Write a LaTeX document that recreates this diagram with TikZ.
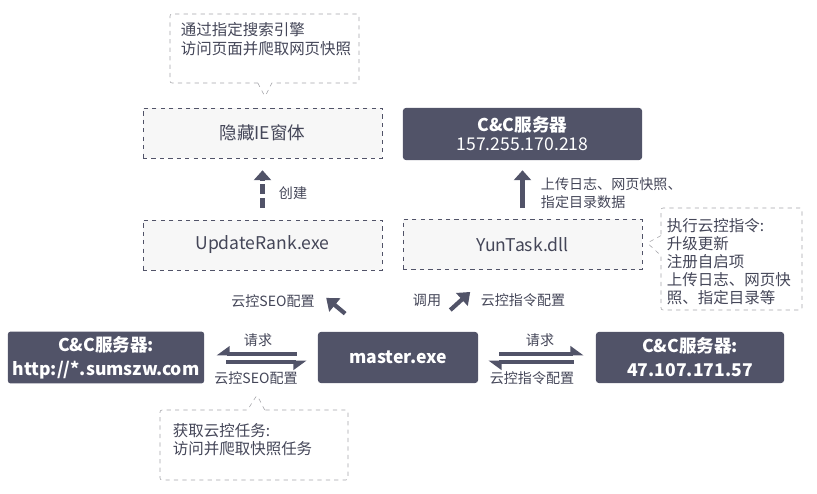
\documentclass[tikz,border=0pt]{standalone}
\usepackage{fontspec}
\setmainfont{Noto Sans CJK SC}
\usepackage{xcolor}
\usetikzlibrary{arrows.meta, positioning, calc, shapes.callouts}
\definecolor{darkslate}{RGB}{81, 83, 104}
\definecolor{boxgray}{RGB}{247, 247, 247}
\definecolor{notegray}{RGB}{165, 165, 170}
\definecolor{textgray}{RGB}{68, 70, 88}

\begin{document}
\begin{tikzpicture}[
    x=0.025cm, y=-0.025cm,
    darkbox/.style={rectangle, rounded corners=2pt, fill=darkslate, text=white, minimum height=1.275cm, align=center, font=\fontsize{12.5}{17}\selectfont},
    dashbox/.style={rectangle, draw=darkslate, dashed, fill=boxgray, minimum width=5.975cm, minimum height=1.25cm, text=textgray, font=\fontsize{12.5}{15}\selectfont},
    note/.style={rectangle callout, rounded corners=1.5pt, draw=notegray, dashed, fill=white},
    notetext/.style={anchor=north west, align=left, inner sep=0pt, text=textgray, font=\fontsize{11}{13.5}\selectfont},
    lbl/.style={text=textgray, font=\fontsize{10}{12.8}\selectfont},
    blockarrow/.style={-{Triangle[length=7pt,width=12pt]}, line width=3.3pt, darkslate},
    diagarrow/.style={-{Triangle[length=8pt,width=12pt]}, line width=3pt, darkslate},
    harpl/.style={-{Triangle[harpoon,swap,length=8pt,width=11pt]}, line width=2.6pt, darkslate},
    harpr/.style={-{Triangle[harpoon,length=8pt,width=11pt]}, line width=2.6pt, darkslate}
]
\useasboundingbox (0,0) rectangle (817,494);

% Boxes
\node[dashbox] (hiddenie) at (262.5,133) {隐藏IE窗体};
\node[darkbox, minimum width=5.975cm, minimum height=1.3cm, font=\fontsize{12.5}{13.5}\selectfont] (cctop) at (522.5,134) {\textbf{C\&C服务器}\\157.255.170.218};
\node[dashbox] (update) at (262.5,245) {UpdateRank.exe};
\node[dashbox] (yuntask) at (522.5,244.5) {YunTask.dll};
\node[darkbox, minimum width=4cm, font=\fontsize{12.5}{17}\selectfont\bfseries] (master) at (398,357.5) {master.exe};
\node[darkbox, minimum width=4.7cm, font=\fontsize{12.5}{17}\selectfont\bfseries] (ccleft) at (106,357.5) {C\&C服务器:\\http://*.sumszw.com};
\node[darkbox, minimum width=4.7cm, font=\fontsize{12.5}{17}\selectfont\bfseries] (ccright) at (690,357.5) {C\&C服务器:\\47.107.171.57};

% Notes
\node[note, minimum width=4.725cm, minimum height=1.725cm, callout pointer width=0.35cm, callout absolute pointer={($(hiddenie.north)+(2.5,-11)$)}] (noteie) at (264.5,48.5) {};
\node[notetext] (noteietext) at ($(noteie.north west)+(11,8)$) {通过指定搜索引擎\\访问页面并爬取网页快照};
\node[note, minimum width=3.525cm, minimum height=2.55cm, callout pointer width=0.5cm, callout absolute pointer={($(yuntask.east)+(5,-1.5)$)}] (notetask) at (731.5,259) {};
\node[notetext, font=\fontsize{11}{12.9}\selectfont] (notetasktext) at ($(notetask.north west)+(6,10)$) {执行云控指令:\\升级更新\\注册自启项\\上传日志、网页快\\照、指定目录等};
\node[note, minimum width=4.7cm, minimum height=1.75cm, callout pointer width=0.43cm, callout absolute pointer={(257,395)}] (noteseo) at (254,445) {};
\node[notetext, font=\fontsize{11}{12.9}\selectfont] (noteseotext) at ($(noteseo.north west)+(13,13)$) {获取云控任务:\\访问并爬取快照任务};

% Vertical arrows
\draw[blockarrow, dash pattern=on 7pt off 3pt, shorten <=0.3cm, shorten >=0.3cm] (update.north) -- (hiddenie.south);
\draw[blockarrow, shorten <=0.275cm, shorten >=0.25cm] (yuntask.north) -- (cctop.south);
\node[lbl, anchor=west] (create) at (274,193) {创建};
\node[lbl, anchor=north west, align=left] (upload) at (536,173) {上传日志、网页快照、\\指定目录数据};

% Diagonal arrows
\coordinate (seofrom) at ($(master.center)!0.39!(update.center)$);
\coordinate (seoto) at ($(master.center)!0.53!(update.center)$);
\coordinate (callfrom) at ($(master.center)!0.42!(yuntask.center)$);
\coordinate (callto) at ($(master.center)!0.58!(yuntask.center)$);
\draw[diagarrow] (seofrom) -- (seoto);
\draw[diagarrow] (callfrom) -- (callto);
\node[lbl] (seolbl) at (273,301) {云控SEO配置};
\node[lbl] (calllbl) at (427,300) {调用};
\node[lbl] (cmdlbl) at (523,300) {云控指令配置};

% Request / reply arrows
\draw[harpl, shorten <=0.525cm, shorten >=0.3cm] ($(master.west)+(0,-3.5)$) -- ($(ccleft.east)+(0,-3.5)$);
\draw[harpl, shorten <=0.55cm, shorten >=0.275cm] ($(ccleft.east)+(0,4.5)$) -- ($(master.west)+(0,4.5)$);
\draw[harpr, shorten <=0.525cm, shorten >=0.3cm] ($(master.east)+(0,-3.5)$) -- ($(ccright.west)+(0,-3.5)$);
\draw[harpr, shorten <=0.55cm, shorten >=0.25cm] ($(ccright.west)+(0,4.5)$) -- ($(master.east)+(0,4.5)$);
\node[lbl] (req1) at (258,340) {请求};
\node[lbl] (seocfg) at (256,378) {云控SEO配置};
\node[lbl] (req2) at (540,340) {请求};
\node[lbl] (cmdcfg) at (532,378) {云控指令配置};
\end{tikzpicture}
\end{document}
